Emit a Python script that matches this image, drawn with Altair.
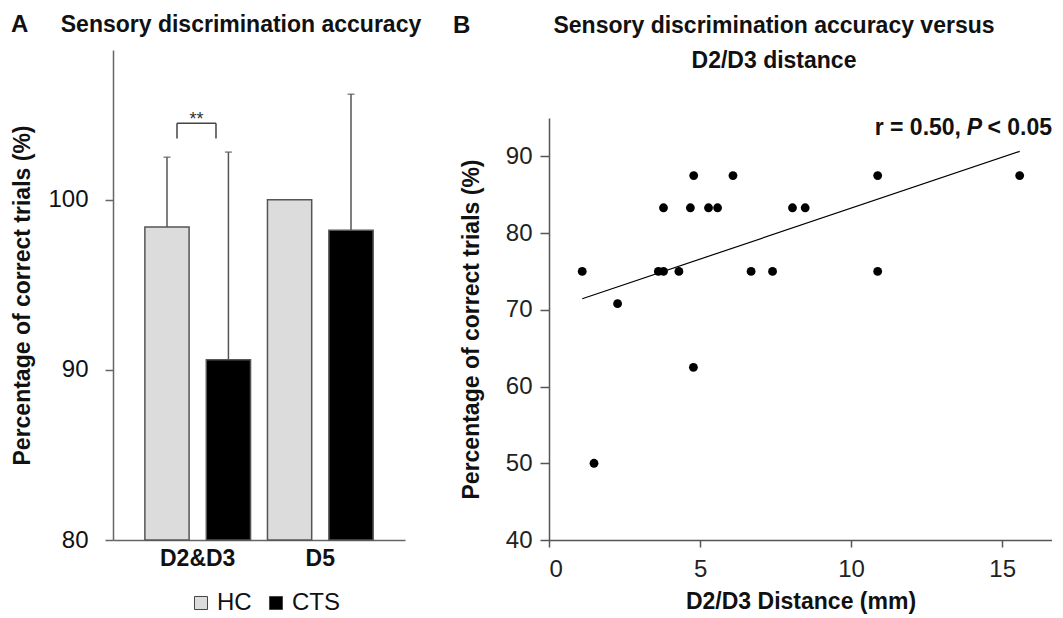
import altair as alt
import pandas as pd

FONT = "Liberation Sans"

# ---------------- Panel A data ----------------
categories = ["D2&D3", "D2&D3", "D5", "D5"]
groups = ["HC", "CTS", "HC", "CTS"]
means = [98.4, 90.6, 100.0, 98.2]
sds = [4.1, 12.2, 0.0, 8.0]

# significance bracket (between HC and CTS for D2&D3)
bracket_cat = ["D2&D3"]
bracket_top = [104.5]
bracket_low = [103.6]
bracket_label = ["**"]

title_A = "Sensory discrimination accuracy"
title_B = "Sensory discrimination accuracy versus\nD2/D3 distance"

# ---------------- Panel B data ----------------
distance_mm = [1.10, 1.49, 2.27, 3.62, 3.79, 3.79, 4.30, 4.68, 4.79, 4.78,
               5.28, 5.58, 6.09, 6.69, 7.40, 8.06, 8.48, 10.88, 10.88, 15.58]
pct_correct = [75.0, 50.0, 70.8, 75.0, 75.0, 83.3, 75.0, 83.3, 87.5, 62.5,
               83.3, 83.3, 87.5, 75.0, 75.0, 83.3, 83.3, 87.5, 75.0, 87.5]
stat_parts = ["r = 0.50,", "P", "< 0.05"]

# ---------------- Panel A ----------------
dfA = pd.DataFrame({"cat": categories, "group": groups, "mean": means, "sd": sds})
dfA["upper"] = dfA["mean"] + dfA["sd"]

H = 490

x_scale = alt.Scale(domain=["D2&D3", "D5"], paddingInner=0.138, paddingOuter=0.26)
xo_scale = alt.Scale(domain=["HC", "CTS"], paddingInner=0.28, paddingOuter=0)
yA_scale = alt.Scale(domain=[80, 108.8], nice=False, zero=False)

baseA = alt.Chart(dfA)

bars = baseA.mark_bar(stroke="#555", strokeWidth=1.5).encode(
    x=alt.X("cat:N", scale=x_scale,
            axis=alt.Axis(title=None, labelAngle=0, labelFontSize=23, labelFontWeight="bold",
                          ticks=False, tickSize=0, labelPadding=7, domainColor="#666",
                          domainWidth=1.5, labelColor="#111")),
    xOffset=alt.XOffset("group:N", scale=xo_scale),
    y=alt.Y("mean:Q", scale=yA_scale,
            axis=alt.Axis(values=[80, 90, 100], title="Percentage of correct trials (%)",
                          tickSize=8, labelPadding=17, labelFontSize=24, titleFontSize=23,
                          titleFontWeight="bold", titlePadding=13, domainColor="#666",
                          tickColor="#666", domainWidth=1.5, tickWidth=1.5, grid=False,
                          labelColor="#111", titleColor="#111")),
    y2=alt.datum(80),
    color=alt.Color("group:N", scale=alt.Scale(domain=["HC", "CTS"], range=["#dcdcdc", "#000000"]),
                    legend=alt.Legend(title=None, orient="none", legendX=76, legendY=541,
                                      direction="horizontal", symbolType="square", symbolSize=170,
                                      symbolStrokeColor="#444", symbolStrokeWidth=1,
                                      labelFontSize=24, labelFont=FONT, columnPadding=12,
                                      labelOffset=4, labelColor="#111")),
)

errA = baseA.transform_filter("datum.sd > 0")
err_rule = errA.mark_rule(color="#555", strokeWidth=1.5).encode(
    x="cat:N", xOffset="group:N", y="mean:Q", y2="upper:Q")
err_cap = errA.mark_tick(color="#555", thickness=1.5, size=7, orient="horizontal").encode(
    x="cat:N", xOffset="group:N", y="upper:Q")

dfBr = pd.DataFrame({"cat": bracket_cat, "top": bracket_top, "low": bracket_low, "label": bracket_label})
baseBr = alt.Chart(dfBr)
br_h = baseBr.mark_rule(color="#444", strokeWidth=1.5).encode(
    x=alt.X("cat:N", bandPosition=0.304), x2=alt.X2("cat:N", bandPosition=0.673), y="top:Q")
br_l = baseBr.mark_rule(color="#444", strokeWidth=1.5).encode(
    x=alt.X("cat:N", bandPosition=0.304), y="low:Q", y2="top:Q")
br_r = baseBr.mark_rule(color="#444", strokeWidth=1.5).encode(
    x=alt.X("cat:N", bandPosition=0.673), y="low:Q", y2="top:Q")
stars = baseBr.mark_text(font=FONT, fontSize=18, color="#333", baseline="bottom", dy=6).encode(
    x=alt.X("cat:N", bandPosition=0.488), y="top:Q", text="label:N")

headA = pd.DataFrame({"letter": ["A"], "title": [title_A]})
letterA = alt.Chart(headA).mark_text(
    font=FONT, fontSize=24, fontWeight="bold", align="left", baseline="alphabetic", color="#111"
).encode(x=alt.value(-102), y=alt.value(-18), text="letter:N")
titleA = alt.Chart(headA).mark_text(
    font=FONT, fontSize=23, fontWeight="bold", align="center", baseline="alphabetic", color="#111"
).encode(x=alt.value(128), y=alt.value(-18), text="title:N")

panelA = alt.layer(bars, err_rule, err_cap, br_h, br_l, br_r, stars, letterA, titleA).properties(
    width=292, height=H,
)

# ---------------- Panel B ----------------
dfB = pd.DataFrame({"dist": distance_mm, "pct": pct_correct})
xB_scale = alt.Scale(domain=[0, 16.65], nice=False, zero=False)
yB_scale = alt.Scale(domain=[40, 95], nice=False, zero=False, range=[H, 68])

pts = alt.Chart(dfB).mark_circle(size=78, color="black", opacity=1).encode(
    x=alt.X("dist:Q", scale=xB_scale,
            axis=alt.Axis(values=[0, 5, 10, 15], title="D2/D3 Distance (mm)", tickSize=7,
                          labelPadding=10, labelFontSize=24, titleFontSize=23,
                          titleFontWeight="bold", titlePadding=9, domainColor="#555",
                          tickColor="#555", domainWidth=1.5, tickWidth=1.5, grid=False,
                          labelColor="#222", titleColor="#111")),
    y=alt.Y("pct:Q", scale=yB_scale,
            axis=alt.Axis(values=[40, 50, 60, 70, 80, 90], title="Percentage of correct trials (%)",
                          tickSize=9, labelPadding=8, labelFontSize=24, titleFontSize=23,
                          titleFontWeight="bold", titlePadding=22, domainColor="#555",
                          tickColor="#555", domainWidth=1.5, tickWidth=1.5, grid=False,
                          labelColor="#222", titleColor="#111")),
)

fit = alt.Chart(dfB).transform_regression("dist", "pct").mark_line(
    color="black", strokeWidth=1.2).encode(x="dist:Q", y="pct:Q")

dfAnn = pd.DataFrame({"x": [16.65], "y": [92.8],
                      "s1": [stat_parts[0]], "s2": [stat_parts[1]], "s3": [stat_parts[2]]})
baseAnn = alt.Chart(dfAnn)
ann1 = baseAnn.mark_text(font=FONT, fontSize=23, fontWeight="bold", align="right",
                         baseline="alphabetic", color="#111", dx=-91).encode(
    x="x:Q", y="y:Q", text="s1:N")
ann2 = baseAnn.mark_text(font=FONT, fontSize=23, fontWeight="bold", fontStyle="italic",
                         align="right", baseline="alphabetic", color="#111", dx=-70).encode(
    x="x:Q", y="y:Q", text="s2:N")
ann3 = baseAnn.mark_text(font=FONT, fontSize=23, fontWeight="bold", align="right",
                         baseline="alphabetic", color="#111", dx=0).encode(
    x="x:Q", y="y:Q", text="s3:N")

headB = pd.DataFrame({"letter": ["B"], "title": [title_B]})
letterB = alt.Chart(headB).mark_text(
    font=FONT, fontSize=24, fontWeight="bold", align="left", baseline="alphabetic", color="#111"
).encode(x=alt.value(-96), y=alt.value(-17), text="letter:N")
titleB = alt.Chart(headB).mark_text(
    font=FONT, fontSize=23, fontWeight="bold", align="center", baseline="alphabetic",
    color="#111", lineBreak="\n", lineHeight=35
).encode(x=alt.value(225), y=alt.value(-17), text="title:N")

panelB = alt.layer(fit, pts, ann1, ann2, ann3, letterB, titleB).properties(
    width=503, height=H,
)

chart = alt.hconcat(panelA, panelB, spacing=31).properties(
    padding={"left": 3, "top": 5, "right": 0, "bottom": 0}
).configure(font=FONT).configure_view(strokeWidth=0).configure_axis(
    labelFont=FONT, titleFont=FONT
)

chart.save("out.html", embed_options={"renderer": "svg", "actions": False})
